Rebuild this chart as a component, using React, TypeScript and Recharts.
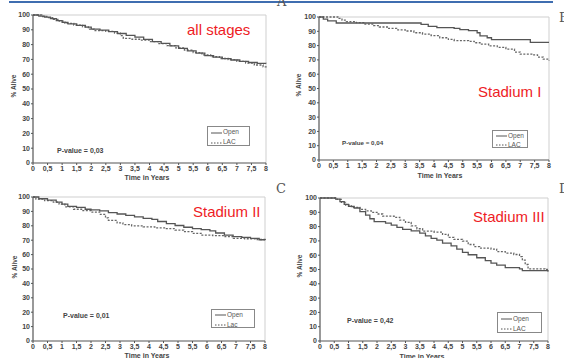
import React from "react";
import { Line, LineChart, ReferenceLine, XAxis, YAxis } from "recharts";

type Pt = [number, number];

const X_TICKS = [0, 0.5, 1, 1.5, 2, 2.5, 3, 3.5, 4, 4.5, 5, 5.5, 6, 6.5, 7, 7.5, 8];
const Y_TICKS = [0, 10, 20, 30, 40, 50, 60, 70, 80, 90, 100];

// survival curves: [years, % alive]
const allOpen: Pt[] = [
  [0, 100], [0.2, 99.3], [0.4, 98.5], [0.6, 97.5], [0.8, 96.2], [1, 95], [1.2, 94],
  [1.5, 93], [1.8, 91.8], [2, 90.5], [2.3, 89.8], [2.6, 88.8], [2.9, 87.5], [3.2, 86.3],
  [3.5, 85], [3.8, 83.5], [4.1, 82], [4.4, 80.8], [4.7, 79.2], [5, 77.5], [5.3, 75.8],
  [5.6, 74.2], [5.9, 72.6], [6.2, 71.5], [6.5, 70.5], [6.8, 69.6], [7.1, 68.7],
  [7.4, 67.9], [7.7, 67.3], [8, 67.2],
];
const allLac: Pt[] = [
  [0, 100], [0.3, 99], [0.5, 98.2], [0.7, 97], [0.9, 95.8], [1.1, 94.3], [1.4, 93.2],
  [1.7, 92], [1.9, 90.5], [2.1, 89.5], [2.5, 89], [2.8, 87.8], [3, 86], [3.1, 84.2],
  [3.4, 83.6], [3.7, 83], [4, 82], [4.3, 80.6], [4.6, 79.3], [4.9, 77.8], [5.2, 76.3],
  [5.5, 74.6], [5.8, 73], [6.1, 71.8], [6.4, 70.6], [6.7, 69.8], [7, 68.6], [7.3, 67.5],
  [7.6, 66.2], [7.9, 65], [8, 64.5],
];
const st1Open: Pt[] = [
  [0, 100], [0.15, 98.5], [0.3, 97.3], [0.6, 95.8], [3.55, 94.8], [3.8, 93.5],
  [4.1, 92.6], [4.7, 92], [4.9, 91.2], [5.2, 90.5], [5.5, 89], [5.6, 86.8],
  [5.85, 85.5], [6, 84.2], [7.35, 82.3], [8, 82.3],
];
const st1Lac: Pt[] = [
  [0, 100], [0.7, 99], [0.8, 97.8], [0.95, 96.8], [1.3, 96], [1.6, 95], [1.9, 94],
  [2.1, 93], [2.4, 92], [2.7, 91], [3, 90.2], [3.3, 89], [3.6, 88], [3.9, 87],
  [4.2, 85.5], [4.5, 84.3], [4.7, 83.5], [5.2, 83], [5.4, 82], [5.6, 81], [5.9, 79.8],
  [6.2, 78.8], [6.5, 77.5], [6.8, 75.5], [7, 74], [7.4, 73.5], [7.6, 72], [7.8, 70.5],
  [8, 69.5],
];
const st2Open: Pt[] = [
  [0, 100], [0.2, 98.8], [0.5, 97.8], [0.8, 96.5], [1, 95], [1.2, 93.5], [1.5, 92.8],
  [1.8, 91.5], [2, 91], [2.3, 90.3], [2.6, 89.2], [2.9, 88.2], [3.2, 87.2], [3.5, 86.2],
  [3.8, 85.2], [4.1, 84.5], [4.3, 83], [4.6, 81.5], [4.9, 80.2], [5.2, 79], [5.5, 78],
  [5.8, 77.3], [6.1, 76.5], [6.3, 75], [6.6, 73.5], [6.9, 72.5], [7.2, 72], [7.5, 71.2],
  [7.8, 70.3], [8, 70],
];
const st2Lac: Pt[] = [
  [0, 100], [0.1, 98.5], [0.4, 97.5], [0.7, 96.5], [0.9, 95], [1.1, 93.2], [1.4, 91.5],
  [1.7, 90.5], [2, 89.5], [2.3, 88], [2.5, 85.5], [2.6, 83.8], [2.9, 82], [3.1, 80.8],
  [3.4, 80], [3.8, 79.2], [4.2, 78.6], [4.6, 78], [4.9, 77], [5.2, 76], [5.5, 74.8],
  [5.8, 73.5], [6.2, 73.2], [6.6, 72.5], [6.9, 71.2], [7.3, 71], [7.7, 70.5], [8, 70],
];
const st3Open: Pt[] = [
  [0, 100], [0.55, 99.2], [0.7, 97.5], [0.85, 95.5], [1, 94.2], [1.2, 93], [1.4, 90.5],
  [1.6, 88], [1.75, 85.5], [1.9, 83.5], [2.3, 82.5], [2.5, 81], [2.7, 79.5], [2.9, 78],
  [3.2, 77], [3.5, 75.5], [3.7, 73.5], [3.9, 71.8], [4.1, 70.5], [4.3, 68.5], [4.6, 66.5],
  [4.8, 64.2], [5, 62], [5.2, 60.3], [5.5, 58.2], [5.8, 56.2], [6, 54.5], [6.2, 53],
  [6.5, 51.3], [7, 50.5], [7.1, 49.2], [8, 49],
];
const st3Lac: Pt[] = [
  [0, 100], [0.6, 99], [0.75, 97], [0.9, 95], [1.1, 93.5], [1.4, 92], [1.6, 91], [1.8, 90],
  [2, 88.8], [2.2, 87.3], [2.6, 86.5], [2.8, 84.5], [3, 83], [3.2, 80.5], [3.4, 78.5],
  [3.6, 76.8], [4, 76.2], [4.3, 74.5], [4.5, 72.5], [4.7, 71], [5, 69.8], [5.2, 67.5],
  [5.4, 66], [5.6, 65], [6, 64.3], [6.2, 62.5], [6.5, 61.5], [6.8, 60.5], [7, 59],
  [7.1, 56.5], [7.2, 53.5], [7.3, 50.5], [7.9, 50], [8, 48.5],
];

const TITLES = ["all stages", "Stadium I", "Stadium II", "Stadium III"];
const P_VALUES = ["0,03", "0,04", "0,01", "0,42"];
const LAC_NAMES = ["LAC", "LAC", "Lac", "LAC"];

const FONT = "'Liberation Sans', Arial, sans-serif";
const INK = "#444";

const toRows = (pts: Pt[]) => pts.map(([t, s]) => ({ t, s }));
const fmt = (v: number) => String(v).replace(".", ",");

interface Box { x0: number; x1: number; y0: number; y1: number }

interface PanelProps {
  left: number;
  top: number;
  width: number;
  height: number;
  plot: Box;
  open: Pt[];
  lac: Pt[];
}

const Y_W = 24;
const X_H = 16;

function Panel({ left, top, width, height, plot, open, lac }: PanelProps) {
  const margin = {
    left: plot.x0 - left - Y_W,
    top: plot.y0 - top,
    right: left + width - plot.x1,
    bottom: top + height - plot.y1 - X_H,
  };
  const tick = { fontSize: 7, fontWeight: 700, fill: INK, fontFamily: FONT };
  return (
    <div style={{ position: "absolute", left, top }}>
      <LineChart width={width} height={height} margin={margin}>
        <XAxis
          dataKey="t"
          type="number"
          domain={[0, 8]}
          ticks={X_TICKS}
          tickFormatter={fmt}
          interval={0}
          height={X_H}
          tickSize={2}
          tickMargin={1}
          tick={tick}
          axisLine={{ stroke: "#555", strokeWidth: 1.2 }}
          tickLine={{ stroke: "#555" }}
        />
        <YAxis
          type="number"
          domain={[0, 100]}
          ticks={Y_TICKS}
          interval={0}
          width={Y_W}
          tickSize={2}
          tickMargin={1}
          tick={tick}
          axisLine={{ stroke: "#555", strokeWidth: 1.2 }}
          tickLine={{ stroke: "#555" }}
        />
        <ReferenceLine y={100} stroke="#cfcfcf" />
        <ReferenceLine x={8} stroke="#cfcfcf" />
        <Line
          data={toRows(lac)}
          dataKey="s"
          type="stepAfter"
          stroke="#666"
          strokeWidth={1.3}
          strokeDasharray="2 1.5"
          dot={false}
          isAnimationActive={false}
        />
        <Line
          data={toRows(open)}
          dataKey="s"
          type="stepAfter"
          stroke="#555"
          strokeWidth={1.3}
          dot={false}
          isAnimationActive={false}
        />
      </LineChart>
    </div>
  );
}

const abs = (left: number, top: number, extra: React.CSSProperties = {}): React.CSSProperties => ({
  position: "absolute",
  left,
  top,
  whiteSpace: "nowrap",
  lineHeight: 1,
  ...extra,
});

function LegendBox({ x0, x1, y0, y1, lacName }: Box & { lacName: string }) {
  const rowH = (y1 - y0) / 2;
  const row = (dash: string | undefined, label: string, i: number) => (
    <div key={label} style={abs(3, 1 + i * rowH, { display: "flex", alignItems: "center", height: rowH - 1 })}>
      <svg width={11} height={4}>
        <line x1={0} y1={2} x2={11} y2={2} stroke="#555" strokeWidth={1} strokeDasharray={dash} />
      </svg>
      <span style={{ fontSize: 6.5, color: "#555", fontFamily: FONT, marginLeft: 1 }}>{label}</span>
    </div>
  );
  return (
    <div
      style={abs(x0, y0, {
        width: x1 - x0,
        height: y1 - y0,
        border: "1px solid #888",
        boxSizing: "border-box",
        background: "#fff",
      })}
    >
      {row(undefined, "Open", 0)}
      {row("1.5 1.5", lacName, 1)}
    </div>
  );
}

export default function App() {
  const panels = [
    { left: 0, top: 0, width: 282, height: 182, plot: { x0: 33, x1: 266, y0: 15, y1: 163 }, open: allOpen, lac: allLac },
    { left: 282, top: 0, width: 282, height: 182, plot: { x0: 319, x1: 549, y0: 17, y1: 160 }, open: st1Open, lac: st1Lac },
    { left: 0, top: 180, width: 282, height: 180, plot: { x0: 33, x1: 265, y0: 197, y1: 341 }, open: st2Open, lac: st2Lac },
    { left: 282, top: 180, width: 282, height: 180, plot: { x0: 320, x1: 548, y0: 198, y1: 341 }, open: st3Open, lac: st3Lac },
  ];
  const titlePos = [[187, 22], [478, 84], [193, 204], [473, 209]];
  const pPos = [[57, 147, 7], [342, 140, 6.2], [63, 312, 7], [347, 317, 7]];
  const legends: Box[] = [
    { x0: 207, x1: 250, y0: 126, y1: 146 },
    { x0: 492, x1: 528, y0: 130, y1: 148 },
    { x0: 211, x1: 255, y0: 309, y1: 328 },
    { x0: 497, x1: 542, y0: 312, y1: 333 },
  ];
  const xTitle = [[147, 177], [440, 175], [147, 355], [422, 356]];
  const yTitle = [[14, 86], [299, 85], [15, 267], [300, 266]];
  const letters: [string, number, number][] = [["A", 277, -5], ["B", 559, 11], ["C", 276, 182], ["D", 559, 182]];

  return (
    <div
      style={{
        position: "absolute",
        left: 0,
        top: 0,
        width: 564,
        height: 358,
        overflow: "hidden",
        background: "#fff",
        fontFamily: FONT,
      }}
    >
      <div style={abs(9, 1, { width: 544, height: 2, background: "#3f6db0" })} />
      {letters.map(([l, x, y]) => (
        <div key={l} style={abs(x, y, { fontFamily: "'DejaVu Serif', serif", fontSize: 13, color: "#555" })}>
          {l}
        </div>
      ))}
      {panels.map((p, i) => (
        <Panel key={i} {...p} />
      ))}
      {TITLES.map((t, i) => (
        <div key={t} style={abs(titlePos[i][0], titlePos[i][1], { fontSize: 15, color: "#ee1c25" })}>
          {t}
        </div>
      ))}
      {P_VALUES.map((v, i) => (
        <div
          key={i}
          style={abs(pPos[i][0], pPos[i][1], { fontSize: pPos[i][2], fontWeight: 700, color: INK })}
        >
          {`P-value = ${v}`}
        </div>
      ))}
      {legends.map((b, i) => (
        <LegendBox key={i} {...b} lacName={LAC_NAMES[i]} />
      ))}
      {xTitle.map(([x, y], i) => (
        <div
          key={i}
          style={abs(x, y, { fontSize: 7, fontWeight: 700, color: INK, transform: "translate(-50%, -50%)" })}
        >
          Time in Years
        </div>
      ))}
      {yTitle.map(([x, y], i) => (
        <div
          key={i}
          style={abs(x, y, {
            fontSize: 6.5,
            fontWeight: 700,
            color: INK,
            transform: "translate(-50%, -50%) rotate(-90deg)",
          })}
        >
          % Alive
        </div>
      ))}
    </div>
  );
}
